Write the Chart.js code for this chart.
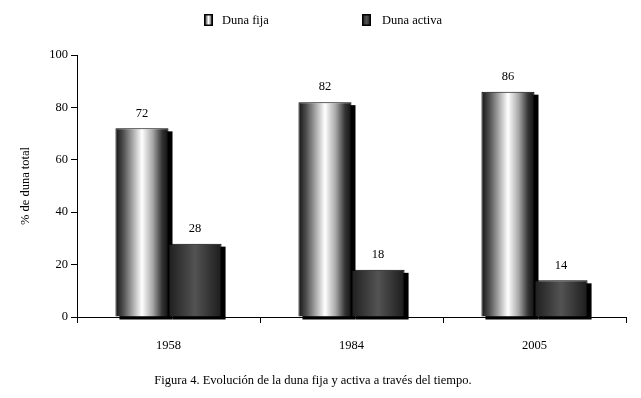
<!DOCTYPE html>
<html>
<head>
<meta charset="utf-8">
<script src="https://cdn.jsdelivr.net/npm/chart.js@4"></script>
<style>
  html, body { margin: 0; padding: 0; background: #fff; }
  #c { display: block; }
</style>
</head>
<body>
<canvas id="c" width="641" height="398"></canvas>
<script>
const categories = ['1958', '1984', '2005'];
const dunaFija = [72, 82, 86];
const dunaActiva = [28, 18, 14];
const seriesNames = ['Duna fija', 'Duna activa'];
const yTicks = [0, 20, 40, 60, 80, 100];
const yTitle = '% de duna total';
const caption = 'Figura 4. Evolución de la duna fija y activa a través del tiempo.';

const FONT = 'Liberation Serif, "DejaVu Serif", serif';

function fijaGradient(ctx, x0, x1) {
  const g = ctx.createLinearGradient(x0, 0, x1, 0);
  g.addColorStop(0, '#141414');
  g.addColorStop(0.15, '#505050');
  g.addColorStop(0.5, '#ffffff');
  g.addColorStop(0.7, '#a8a8a8');
  g.addColorStop(0.88, '#333333');
  g.addColorStop(1, '#121212');
  return g;
}
function activaGradient(ctx, x0, x1) {
  const g = ctx.createLinearGradient(x0, 0, x1, 0);
  g.addColorStop(0, '#1e1e1e');
  g.addColorStop(0.5, '#535353');
  g.addColorStop(1, '#1c1c1c');
  return g;
}
const gradFns = [fijaGradient, activaGradient];

const barStylePlugin = {
  id: 'barStyle',
  beforeDatasetsDraw(chart) {
    const ctx = chart.ctx;
    ctx.save();
    ctx.fillStyle = '#000';
    chart.data.datasets.forEach((ds, i) => {
      chart.getDatasetMeta(i).data.forEach(el => {
        const x0 = el.x - el.width / 2, x1 = el.x + el.width / 2;
        el.options = Object.assign({}, el.options, { backgroundColor: gradFns[i](ctx, x0, x1) });
        const top = Math.min(el.y, el.base), bot = Math.max(el.y, el.base);
        ctx.fillRect(x0 + 4, top + 3, el.width, bot - top);
      });
    });
    ctx.restore();
  }
};

const valueLabelPlugin = {
  id: 'valueLabels',
  afterDatasetsDraw(chart) {
    const ctx = chart.ctx;
    ctx.save();
    ctx.font = '12.5px ' + FONT;
    ctx.fillStyle = '#000';
    ctx.textAlign = 'center';
    ctx.textBaseline = 'middle';
    chart.data.datasets.forEach((ds, i) => {
      chart.getDatasetMeta(i).data.forEach((el, j) => {
        ctx.fillText(String(ds.data[j]), el.x, el.y - 15);
      });
    });
    ctx.restore();
  }
};

const legendPlugin = {
  id: 'customLegend',
  afterDraw(chart) {
    const ctx = chart.ctx;
    const items = [
      { box: 204, text: 222 },
      { box: 362, text: 382 }
    ];
    ctx.save();
    ctx.font = '12.5px ' + FONT;
    ctx.textBaseline = 'middle';
    ctx.textAlign = 'left';
    items.forEach((it, i) => {
      const bw = 9, bh = 12, by = 14;
      ctx.fillStyle = gradFns[i](ctx, it.box, it.box + bw);
      ctx.fillRect(it.box, by, bw, bh);
      ctx.strokeStyle = '#000';
      ctx.lineWidth = 1.5;
      ctx.strokeRect(it.box + 0.75, by + 0.75, bw - 1.5, bh - 1.5);
      ctx.fillStyle = '#000';
      ctx.fillText(seriesNames[i], it.text, 20.5);
    });
    ctx.restore();
  }
};

new Chart(document.getElementById('c'), {
  type: 'bar',
  data: {
    labels: categories,
    datasets: [
      { label: seriesNames[0], data: dunaFija, borderColor: '#000', borderWidth: 1, backgroundColor: () => '#cccccc' },
      { label: seriesNames[1], data: dunaActiva, borderColor: '#000', borderWidth: 1, backgroundColor: () => '#444444' }
    ]
  },
  options: {
    responsive: false,
    animation: false,
    devicePixelRatio: 1,
    layout: { padding: { left: 0, right: 15, top: 55, bottom: 0 } },
    datasets: { bar: { barPercentage: 1, categoryPercentage: 0.58 } },
    plugins: {
      legend: { display: false },
      tooltip: { enabled: false },
      title: {
        display: true,
        position: 'bottom',
        text: caption,
        color: '#000',
        font: { family: FONT, size: 12.5, weight: 'normal' },
        padding: { top: 0, bottom: 10 }
      }
    },
    scales: {
      x: {
        grid: { display: true, drawOnChartArea: false, drawTicks: true, tickLength: 6, color: '#000', offset: true },
        border: { display: true, color: '#000', width: 1 },
        ticks: { color: '#000', padding: 15, font: { family: FONT, size: 12.5 } },
        afterFit(scale) { scale.height = 56; }
      },
      y: {
        min: 0, max: 100,
        afterBuildTicks(scale) { scale.ticks = yTicks.map(v => ({ value: v })); },
        grid: { display: true, drawOnChartArea: false, drawTicks: true, tickLength: 6, color: '#000' },
        border: { display: true, color: '#000', width: 1 },
        ticks: { color: '#000', padding: 3, font: { family: FONT, size: 12.5 } },
        title: {
          display: true, text: yTitle, color: '#000',
          font: { family: FONT, size: 12.5 },
          padding: { top: 18, bottom: 0 }
        },
        afterFit(scale) { scale.width = 77; }
      }
    }
  },
  plugins: [barStylePlugin, valueLabelPlugin, legendPlugin]
});
</script>
</body>
</html>
